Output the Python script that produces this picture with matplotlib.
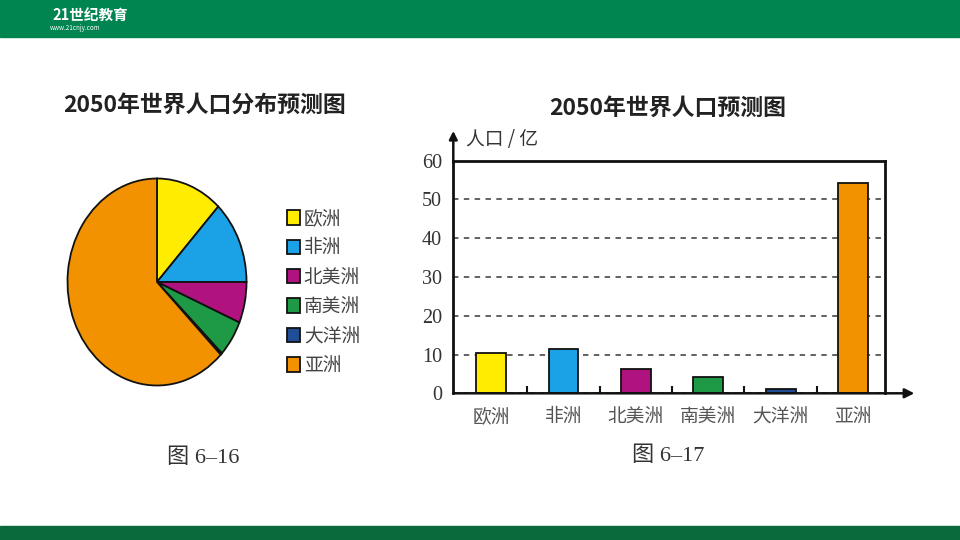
import matplotlib
matplotlib.use("Agg")
import matplotlib.pyplot as plt
from matplotlib.patches import Rectangle

plt.rcParams['font.family'] = ['Noto Sans CJK SC', 'DejaVu Sans']

# data
continents = ["欧洲", "非洲", "北美洲", "南美洲", "大洋洲", "亚洲"]
pie_share = [12.0, 13.0, 6.4, 5.7, 0.3, 62.6]          # percent, from the pie
population = [10.3, 11.3, 6.3, 4.2, 1.0, 54.3]          # 亿人, from the bars
colors = ["#FFEC00", "#1BA1E6", "#B0137F", "#1E9A46", "#1F4E96", "#F39200"]
y_ticks = [0, 10, 20, 30, 40, 50, 60]

W, H = 960, 540
fig = plt.figure(figsize=(9.6, 5.4), dpi=100)
fig.patch.set_facecolor("white")


def box(x0, y0, x1, y1):
    # pixel box (top-left origin) -> figure fractions
    return [x0 / W, 1 - y1 / H, (x1 - x0) / W, (y1 - y0) / H]


# green bands top and bottom
fig.patches.append(Rectangle((0, 1 - 37 / H), 1, 37 / H, transform=fig.transFigure,
                             color="#008551", zorder=0))
fig.patches.append(Rectangle((0, 0), 1, 14 / H, transform=fig.transFigure,
                             color="#0B6A3B", zorder=0))
fig.text(52 / W, 1 - 15 / H, "21世纪教育", color="white", fontsize=10.5,
         fontweight="bold", style="italic", va="center")
fig.text(50 / W, 1 - 28 / H, "www.21cnjy.com", color="white", fontsize=4.5, va="center")

# ---- pie chart ----
cx, cy, rx, ry = 157, 282, 89.5, 103.5
ax1 = fig.add_axes(box(cx - 1.1 * rx, cy - 1.1 * ry, cx + 1.1 * rx, cy + 1.1 * ry))
wedges, _ = ax1.pie(pie_share, colors=colors, startangle=90, counterclock=False,
                    wedgeprops=dict(edgecolor="#111111", linewidth=1.3))
ax1.set_aspect("auto")
ax1.set_xlim(-1.1, 1.1)
ax1.set_ylim(-1.1, 1.1)
ax1.axis("off")

fig.text(205 / W, 1 - 105 / H, "2050年世界人口分布预测图", fontsize=16.5,
         fontweight="bold", color="#222222", ha="center", va="center")

fig.legend(wedges, continents, loc="upper left", bbox_to_anchor=(270 / W, 1 - 191 / H),
           frameon=False, fontsize=13.5, handlelength=0.7, handleheight=0.8,
           handletextpad=0.2, labelspacing=0.45, labelcolor="#444444")

fig.text(203 / W, 1 - 458 / H, "图 6–16", fontsize=16, color="#333333",
         ha="center", va="center", family=["Liberation Serif", "Noto Sans CJK SC"])

# ---- bar chart ----
ax2 = fig.add_axes(box(453.3, 160.7, 885, 393.3))
x = list(range(len(continents)))
ax2.bar(x, population, width=0.41, color=colors, edgecolor="#111111",
        linewidth=1.3, zorder=3)
ax2.set_xlim(-0.52, 5.44)
ax2.set_ylim(0, 60)
ax2.set_yticks(y_ticks)
ax2.set_yticklabels([str(v) for v in y_ticks], family="Liberation Serif",
                    fontsize=14.5, color="#333333")
ax2.set_xticks(x)
ax2.set_xticklabels(continents, fontsize=13.5, color="#555555")
ax2.set_xticks([i + 0.5 for i in x[:-1]], minor=True)
ax2.tick_params(axis="x", which="major", length=0, pad=9)
ax2.tick_params(axis="x", which="minor", direction="in", length=5, width=1.5, color="#111111")
ax2.tick_params(axis="y", length=0, pad=8)
ax2.grid(axis="y", linestyle=(0, (3, 3)), color="#555555", linewidth=1.3, zorder=1)
for side in ["top", "right", "left"]:
    ax2.spines[side].set_linewidth(2)
    ax2.spines[side].set_color("#111111")
ax2.spines["bottom"].set_visible(False)

# axis arrows
ax2.annotate("", xy=(1.068, 0), xytext=(0, 0), xycoords="axes fraction",
             arrowprops=dict(arrowstyle="-|>", color="#111111", lw=1.8,
                             mutation_scale=14, shrinkA=0, shrinkB=0),
             annotation_clip=False)
ax2.annotate("", xy=(0, 1.128), xytext=(0, 0.99), xycoords="axes fraction",
             arrowprops=dict(arrowstyle="-|>", color="#111111", lw=1.8,
                             mutation_scale=12, shrinkA=0, shrinkB=0),
             annotation_clip=False)
ax2.text(0.03, 1.09, "人口 / 亿", transform=ax2.transAxes, fontsize=13.5,
         color="#333333", ha="left", va="center")

fig.text(668 / W, 1 - 108 / H, "2050年世界人口预测图", fontsize=16.5,
         fontweight="bold", color="#222222", ha="center", va="center")
fig.text(668 / W, 1 - 456 / H, "图 6–17", fontsize=16, color="#333333",
         ha="center", va="center", family=["Liberation Serif", "Noto Sans CJK SC"])

fig.savefig("out.png", dpi=100, facecolor=fig.get_facecolor())
